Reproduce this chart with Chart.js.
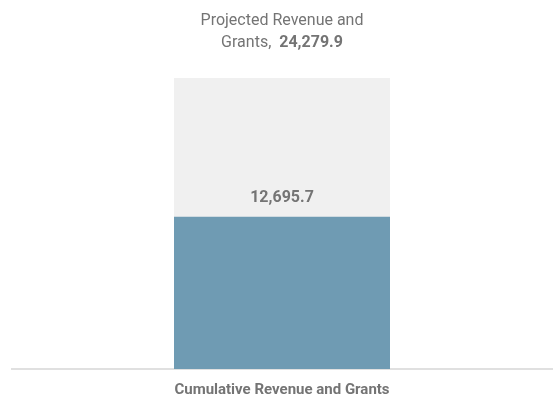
<!DOCTYPE html>
<html>
<head>
<meta charset="utf-8">
<script src="https://cdn.jsdelivr.net/npm/chart.js@4.4.1/dist/chart.umd.min.js"></script>
<style>
  html, body { margin: 0; padding: 0; background: #fff; }
  #wrap { width: 555px; height: 405px; position: relative; }
</style>
</head>
<body>
<div id="wrap"><canvas id="revChart"></canvas></div>
<script>
// 데이터
const categories = ['Cumulative Revenue and Grants'];
const cumulativeValues = [12695.7];
const projectedValues = [24279.9];
const projectedLabel = ['Projected Revenue and', 'Grants,'];

const textColor = '#747474';
const fmt = v => v.toLocaleString('en-US', { minimumFractionDigits: 1, maximumFractionDigits: 1 });

// 막대 위 라벨 그리기
const labelPlugin = {
    id: 'barLabels',
    afterDatasetsDraw(chart) {
        const ctx = chart.ctx;
        const projBar = chart.getDatasetMeta(1).data[0];
        const cumBar = chart.getDatasetMeta(0).data[0];
        ctx.save();
        ctx.fillStyle = textColor;
        ctx.textBaseline = 'middle';
        ctx.textAlign = 'center';

        // 누적 값
        ctx.font = "bold 16px Roboto";
        ctx.fillText(fmt(cumulativeValues[0]), cumBar.x, cumBar.y - 19);

        // 예상 값 (두 줄)
        ctx.font = "16px Roboto";
        ctx.fillText(projectedLabel[0], projBar.x, projBar.y - 57);
        const part1 = projectedLabel[1] + '  ';
        const part2 = fmt(projectedValues[0]);
        const w1 = ctx.measureText(part1).width;
        ctx.font = "bold 16px Roboto";
        const w2 = ctx.measureText(part2).width;
        const startX = projBar.x - (w1 + w2) / 2;
        ctx.textAlign = 'left';
        ctx.font = "16px Roboto";
        ctx.fillText(part1, startX, projBar.y - 35);
        ctx.font = "bold 16px Roboto";
        ctx.fillText(part2, startX + w1, projBar.y - 35);
        ctx.restore();
    }
};

const ctx = document.getElementById('revChart').getContext('2d');
new Chart(ctx, {
    type: 'bar',
    data: {
        labels: categories,
        datasets: [
            {
                label: 'Cumulative',
                data: cumulativeValues,
                backgroundColor: '#6f9bb3',
                order: 0
            },
            {
                label: 'Projected',
                data: projectedValues,
                backgroundColor: '#f0f0f0',
                order: 1
            }
        ]
    },
    options: {
        responsive: true,
        maintainAspectRatio: false,
        animation: false,
        layout: { padding: { top: 78, left: 12, right: 3, bottom: 0 } },
        datasets: {
            bar: { categoryPercentage: 1, barPercentage: 0.4, grouped: false }
        },
        scales: {
            x: {
                grid: { display: false, drawTicks: false },
                border: { display: true, color: '#e0e0e0', width: 2 },
                ticks: {
                    color: textColor,
                    font: { family: 'Roboto', size: 15, weight: 'bold' },
                    padding: 12
                },
                afterFit: scale => { scale.height = 36; }
            },
            y: {
                display: false,
                min: 0,
                max: projectedValues[0]
            }
        },
        plugins: {
            legend: { display: false },
            tooltip: { enabled: false }
        }
    },
    plugins: [labelPlugin]
});
</script>
</body>
</html>
